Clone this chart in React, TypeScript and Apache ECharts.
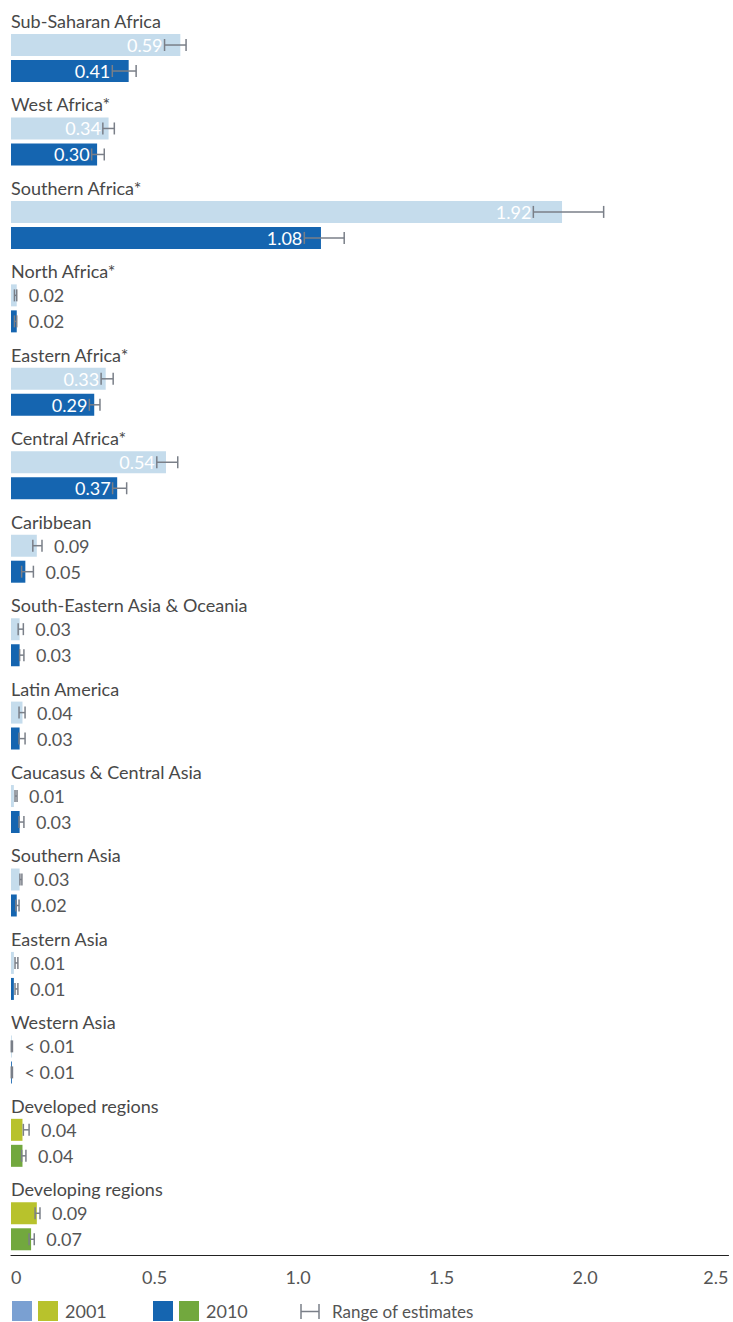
import React, { useEffect, useRef } from "react";
import * as echarts from "echarts";

const categories = [
  "Sub-Saharan Africa",
  "West Africa*",
  "Southern Africa*",
  "North Africa*",
  "Eastern Africa*",
  "Central Africa*",
  "Caribbean",
  "South-Eastern Asia & Oceania",
  "Latin America",
  "Caucasus & Central Asia",
  "Southern Asia",
  "Eastern Asia",
  "Western Asia",
  "Developed regions",
  "Developing regions",
];

const values2001 = [0.59, 0.34, 1.92, 0.02, 0.33, 0.54, 0.09, 0.03, 0.04, 0.01, 0.03, 0.01, 0.003, 0.04, 0.09];
const low2001 = [0.535, 0.32, 1.82, 0.012, 0.314, 0.508, 0.076, 0.025, 0.028, 0.014, 0.031, 0.014, 0.001, 0.043, 0.084];
const high2001 = [0.61, 0.36, 2.065, 0.02, 0.356, 0.581, 0.108, 0.043, 0.049, 0.021, 0.038, 0.024, 0.005, 0.063, 0.101];
const labels2001 = ["0.59", "0.34", "1.92", "0.02", "0.33", "0.54", "0.09", "0.03", "0.04", "0.01", "0.03", "0.01", "< 0.01", "0.04", "0.09"];

const values2010 = [0.41, 0.3, 1.08, 0.02, 0.29, 0.37, 0.05, 0.03, 0.03, 0.03, 0.02, 0.01, 0.003, 0.04, 0.07];
const low2010 = [0.353, 0.281, 1.022, 0.012, 0.273, 0.354, 0.037, 0.03, 0.028, 0.028, 0.017, 0.014, 0.001, 0.037, 0.063];
const high2010 = [0.436, 0.325, 1.161, 0.02, 0.31, 0.403, 0.078, 0.045, 0.049, 0.045, 0.028, 0.024, 0.005, 0.052, 0.081];
const labels2010 = ["0.41", "0.30", "1.08", "0.02", "0.29", "0.37", "0.05", "0.03", "0.03", "0.03", "0.02", "0.01", "< 0.01", "0.04", "0.07"];

// which categories are aggregate groups (drawn in green shades)
const aggregateGroups = ["Developed regions", "Developing regions"];

const xTicks = [0, 0.5, 1.0, 1.5, 2.0, 2.5];

const FONT = "Lato, 'DejaVu Sans', sans-serif";
const C2001 = "#c5dcec";
const C2010 = "#1565b0";
const C2001G = "#b8c22c";
const C2010G = "#72a83e";
const ERR = "#7a7f88";
const TXT = "#555555";

export default function App() {
  const ref = useRef<HTMLDivElement>(null);

  useEffect(() => {
    if (!ref.current) return;
    const chart = echarts.init(ref.current, undefined, { renderer: "svg" });

    const barData = (vals: number[], base: string, agg: string) =>
      vals.map((v, i) => ({
        value: v,
        itemStyle: { color: aggregateGroups.includes(categories[i]) ? agg : base },
      }));

    const errRender = (labels: string[], offset: number) => (params: any, api: any) => {
      const idx = api.value(0);
      const v = api.value(1);
      const lo = api.value(2);
      const hi = api.value(3);
      const c = api.coord([v, idx]);
      const pl = api.coord([lo, idx]);
      const ph = api.coord([hi, idx]);
      const y = c[1] + offset;
      const capH = 6;
      const inside = v > 0.2;
      const label = labels[params.dataIndex];
      const lineStyle = { stroke: ERR, lineWidth: 1.5 };
      return {
        type: "group",
        children: [
          { type: "line", shape: { x1: pl[0], y1: y, x2: ph[0], y2: y }, style: lineStyle },
          { type: "line", shape: { x1: pl[0], y1: y - capH, x2: pl[0], y2: y + capH }, style: lineStyle },
          { type: "line", shape: { x1: ph[0], y1: y - capH, x2: ph[0], y2: y + capH }, style: lineStyle },
          {
            type: "text",
            x: inside ? pl[0] - 2 : ph[0] + 12,
            y: y,
            style: {
              text: label,
              fill: inside ? "#ffffff" : TXT,
              font: `18px ${FONT}`,
              align: inside ? "right" : "left",
              verticalAlign: "middle",
            },
          },
        ],
      };
    };

    const titleRender = (params: any, api: any) => {
      const idx = api.value(0);
      const p = api.coord([0, idx]);
      return {
        type: "text",
        x: p[0],
        y: p[1] - 24,
        style: {
          text: categories[params.dataIndex],
          fill: "#484848",
          font: `18px ${FONT}`,
          align: "left",
          verticalAlign: "middle",
        },
      };
    };

    const option: any = {
      animation: false,
      grid: { left: 11, right: 4.5, top: 3.3, bottom: 67, containLabel: false },
      xAxis: {
        type: "value",
        min: 0,
        max: 2.5,
        interval: 0.5,
        axisLine: { show: true, lineStyle: { color: "#222", width: 1.2 } },
        axisTick: { show: false },
        splitLine: { show: false },
        axisLabel: {
          color: TXT,
          fontFamily: FONT,
          fontSize: 18,
          margin: 13,
          alignMinLabel: "left",
          alignMaxLabel: "right",
          formatter: (v: number) => {
            const t = xTicks.find((x) => Math.abs(x - v) < 1e-9);
            if (t === undefined) return "";
            return t === 0 ? "0" : t.toFixed(1);
          },
        },
      },
      yAxis: {
        type: "category",
        data: categories,
        inverse: true,
        axisLine: { show: false },
        axisTick: { show: false },
        axisLabel: { show: false },
        splitLine: { show: false },
      },
      series: [
        {
          name: "spacer",
          type: "bar",
          data: categories.map(() => 0),
          barWidth: 22,
          barGap: "18.18%",
          itemStyle: { opacity: 0 },
          silent: true,
        },
        {
          name: "2001",
          type: "bar",
          data: barData(values2001, C2001, C2001G),
          barWidth: 22,
          barGap: "18.18%",
        },
        {
          name: "2010",
          type: "bar",
          data: barData(values2010, C2010, C2010G),
          barWidth: 22,
          barGap: "18.18%",
        },
        {
          name: "titles",
          type: "custom",
          renderItem: titleRender,
          encode: { x: 1, y: 0 },
          data: categories.map((_, i) => [i, 0]),
          z: 5,
        },
        {
          name: "err2001",
          type: "custom",
          renderItem: errRender(labels2001, 0),
          encode: { x: [1, 2, 3], y: 0 },
          data: values2001.map((v, i) => [i, v, low2001[i], high2001[i]]),
          z: 5,
        },
        {
          name: "err2010",
          type: "custom",
          renderItem: errRender(labels2010, 26),
          encode: { x: [1, 2, 3], y: 0 },
          data: values2010.map((v, i) => [i, v, low2010[i], high2010[i]]),
          z: 5,
        },
      ],
      graphic: [
        { type: "rect", shape: { x: 12, y: 1301, width: 20, height: 20 }, style: { fill: "#7aa0d2" } },
        { type: "rect", shape: { x: 38, y: 1301, width: 20, height: 20 }, style: { fill: C2001G } },
        { type: "text", x: 65, y: 1311, style: { text: "2001", fill: TXT, font: `18px ${FONT}`, verticalAlign: "middle" } },
        { type: "rect", shape: { x: 153, y: 1301, width: 20, height: 20 }, style: { fill: C2010 } },
        { type: "rect", shape: { x: 179, y: 1301, width: 20, height: 20 }, style: { fill: C2010G } },
        { type: "text", x: 206, y: 1311, style: { text: "2010", fill: TXT, font: `18px ${FONT}`, verticalAlign: "middle" } },
        { type: "line", shape: { x1: 301, y1: 1304, x2: 301, y2: 1319 }, style: { stroke: ERR, lineWidth: 1.5 } },
        { type: "line", shape: { x1: 319, y1: 1304, x2: 319, y2: 1319 }, style: { stroke: ERR, lineWidth: 1.5 } },
        { type: "line", shape: { x1: 301, y1: 1311.5, x2: 319, y2: 1311.5 }, style: { stroke: ERR, lineWidth: 1.5 } },
        { type: "text", x: 332, y: 1311, style: { text: "Range of estimates", fill: TXT, font: `17px ${FONT}`, verticalAlign: "middle" } },
      ],
    };

    chart.setOption(option);
    return () => chart.dispose();
  }, []);

  return (
    <div
      ref={ref}
      style={{ position: "absolute", left: 0, top: 0, width: 733, height: 1322 }}
    />
  );
}
